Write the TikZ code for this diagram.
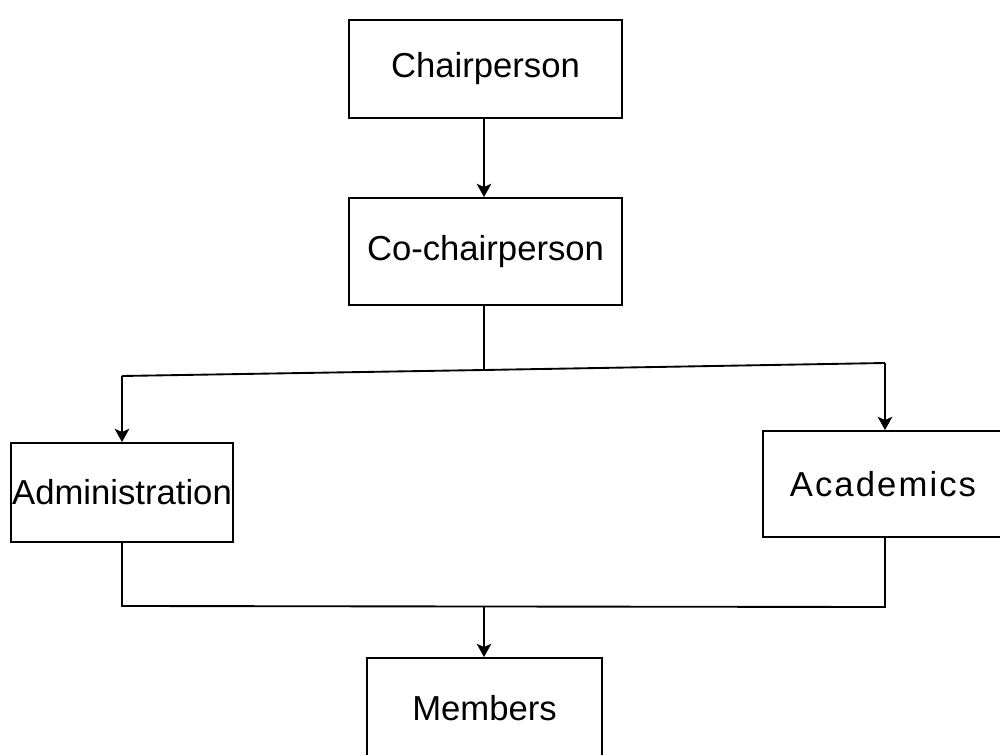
\documentclass[tikz,border=0pt]{standalone}
\usepackage{fontspec}
\setmainfont{Liberation Sans}
\usetikzlibrary{arrows.meta}

\begin{document}
\begin{tikzpicture}[x=0.75pt,y=0.75pt,yscale=-1,xscale=1,
	box/.style={draw, line width=1.4pt, inner sep=0pt, font=\fontsize{26}{30}\selectfont},
	link/.style={line width=1.4pt},
	arr/.style={link, -{Stealth[length=10pt,width=11pt,inset=2.5pt]}}]
				\useasboundingbox (0,0) rectangle (1000,755);
				
				% Text Node
				\node (chair) [box, minimum width=204.75pt, minimum height=73.5pt] at (485.5,69) {Chairperson};
				% Text Node
				\node (cochair) [box, minimum width=204.75pt, minimum height=80.25pt] at (485.5,251.5) {Co-chairperson};
				% Text Node
				\node (adm) [box, minimum width=166.5pt, minimum height=74.25pt] at (122,492.5) {Administration};
				% Text Node
				\node (acad) [box, minimum width=180pt, minimum height=79.5pt] at (883,484) {\addfontfeature{LetterSpace=6}Academics};
				% Text Node
				\node (members) [box, minimum width=176.25pt, minimum height=75pt] at (484.5,708) {Members};
				
				%Straight Lines
				\coordinate (split) at (484,370);
				\coordinate (ltop) at (122,376);
				\coordinate (rtop) at (885,363);
				\coordinate (lbot) at (122,606);
				\coordinate (join) at (484,606.5);
				\coordinate (rbot) at (885,607);
				
				\draw [arr] (chair.south -| split) -- (cochair.north -| split);
				\draw [link] (cochair.south -| split) -- (split);
				\draw [link] (ltop) -- (split) -- (rtop);
				\draw [arr] (ltop) -- (ltop |- adm.north);
				\draw [arr] (rtop) -- (rtop |- acad.north);
				\draw [link] (adm.south -| lbot) -- (lbot) -- (join) -- (rbot) -- (acad.south -| rbot);
				\draw [arr] (join) -- (members.north -| join);
				
\end{tikzpicture}
\end{document}
